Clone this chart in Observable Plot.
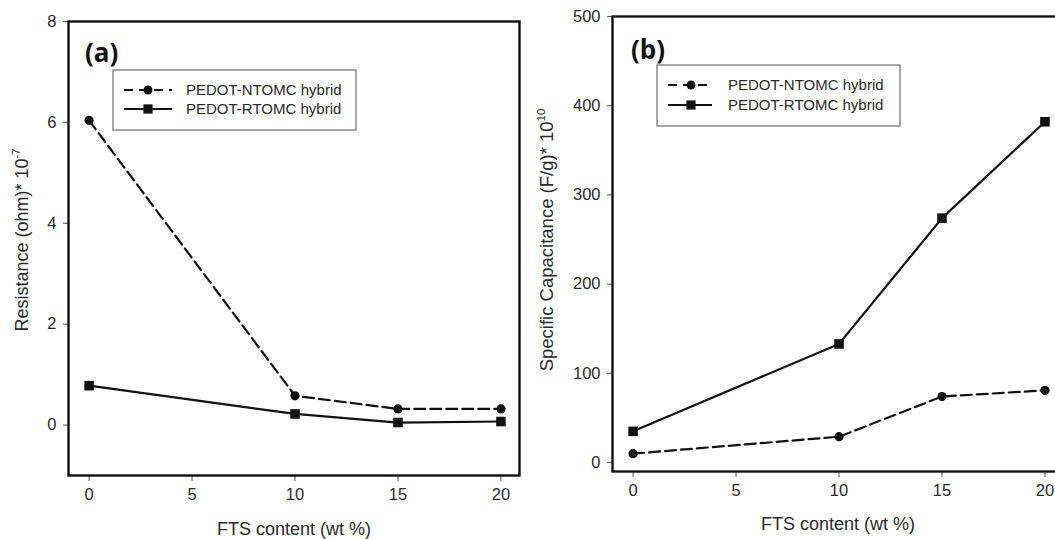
<!DOCTYPE html>
<html><head><meta charset="utf-8">
<script src="https://cdn.jsdelivr.net/npm/d3@7"></script>
<script src="https://cdn.jsdelivr.net/npm/@observablehq/plot@0.6"></script>
<style>
html,body{margin:0;padding:0;background:#fff;overflow:hidden;width:1055px;height:539px;}
#a{position:absolute;left:0;top:0;width:530px;height:539px;}
#b{position:absolute;left:530px;top:0;width:560px;height:539px;}
svg{overflow:visible;max-width:none !important;}
g[aria-label="x-axis tick label"], g[aria-label="y-axis tick label"]{font-size:16.5px;}
</style></head><body>
<div id="a"></div><div id="b"></div>
<script>
const fts = [0, 10, 15, 20];
const resistanceNTOMC = [6.04, 0.58, 0.32, 0.32];
const resistanceRTOMC = [0.78, 0.22, 0.05, 0.07];
const capacitanceNTOMC = [10, 29, 74, 81];
const capacitanceRTOMC = [35, 133, 274, 382];
const seriesNames = ["PEDOT-NTOMC hybrid", "PEDOT-RTOMC hybrid"];
const xTicks = [0, 5, 10, 15, 20];
const yTicksA = [0, 2, 4, 6, 8];
const yTicksB = [0, 100, 200, 300, 400, 500];
const xLabel = "FTS content (wt %)";

const FONT = "'Liberation Sans', Arial, sans-serif";

function rows(vals, name) { return fts.map((x, i) => ({x, y: vals[i], s: name})); }

function panel(cfg) {
  const n = rows(cfg.nt, seriesNames[0]);
  const r = rows(cfg.rt, seriesNames[1]);
  const svg = Plot.plot({
    width: cfg.width, height: 539,
    marginLeft: cfg.ml, marginRight: cfg.mr, marginTop: cfg.mt, marginBottom: cfg.mb,
    style: {fontFamily: FONT, fontSize: "16px", color: "#2a2a2a", background: "transparent", maxWidth: "none"},
    x: {domain: cfg.xd},
    y: {domain: cfg.yd},
    marks: [
      Plot.axisX({ticks: xTicks, tickSize: 6, tickPadding: 7, label: null, stroke: "#555", fontSize: 16.5, fill: "#2a2a2a", tickFormat: d => d}),
      Plot.axisY({ticks: cfg.yTicks, tickSize: 5, tickPadding: 7, label: null, stroke: "#555", fontSize: 16.5, fill: "#2a2a2a", tickFormat: d => d}),
      Plot.lineY(n, {x: "x", y: "y", stroke: "#111", strokeWidth: 2.2, strokeDasharray: "11,5"}),
      Plot.lineY(r, {x: "x", y: "y", stroke: "#111", strokeWidth: 2.2}),
      Plot.dot(n, {x: "x", y: "y", symbol: "circle", r: 4.6, fill: "#111", stroke: "none"}),
      Plot.dot(r, {x: "x", y: "y", symbol: "square", r: 5.4, fill: "#111", stroke: "none"}),
      Plot.frame({stroke: "#111", strokeWidth: 2.4})
    ]
  });
  svg.style.maxWidth = "none";
  const s = d3.select(svg);
  s.selectAll('g[aria-label="x-axis tick label"], g[aria-label="y-axis tick label"]').attr("font-size", 16.5);
  // panel tag
  s.append("text").attr("x", cfg.tag[0]).attr("y", cfg.tag[1]).attr("text-anchor", "start")
    .attr("font-family", "'Open Sans', sans-serif").attr("font-weight", "bold")
    .attr("font-size", 26).attr("fill", "#111").text(cfg.tagText);
  // legend
  const L = cfg.leg;
  const g = s.append("g");
  g.append("rect").attr("x", L.x).attr("y", L.y).attr("width", L.w).attr("height", L.h)
    .attr("fill", "#fff").attr("stroke", "#777").attr("stroke-width", 1.3);
  [0, 1].forEach(i => {
    const yy = L.ly[i];
    g.append("line").attr("x1", L.x1).attr("x2", L.x2).attr("y1", yy).attr("y2", yy)
      .attr("stroke", "#111").attr("stroke-width", 2)
      .attr("stroke-dasharray", i === 0 ? "9,6" : null);
    if (i === 0) g.append("circle").attr("cx", L.mx).attr("cy", yy).attr("r", 4.5).attr("fill", "#111");
    else g.append("rect").attr("x", L.mx - 4.6).attr("y", yy - 4.6).attr("width", 9.2).attr("height", 9.2).attr("fill", "#111");
    g.append("text").attr("x", L.tx).attr("y", yy).attr("dy", "0.36em").attr("text-anchor", "start")
      .attr("font-family", FONT).attr("font-size", 15).attr("fill", "#2a2a2a").text(seriesNames[i]);
  });
  // x label
  s.append("text").attr("x", cfg.xl[0]).attr("y", cfg.xl[1]).attr("text-anchor", "middle")
    .attr("font-family", FONT).attr("font-size", 18).attr("fill", "#2a2a2a").text(xLabel);
  // y label with superscript
  const yt = s.append("text").attr("transform", `translate(${cfg.yl[0]},${cfg.yl[1]}) rotate(-90)`)
    .attr("text-anchor", "middle").attr("font-family", FONT).attr("font-size", cfg.ylSize).attr("fill", "#2a2a2a");
  yt.append("tspan").text(cfg.yLabel);
  yt.append("tspan").attr("dy", -8).attr("font-size", cfg.ylSize * 0.62).text(cfg.yExp);
  return svg;
}

document.getElementById("a").appendChild(panel({
  width: 530, ml: 68, mr: 11, mt: 21, mb: 64,
  xd: [-1, 20.9], yd: [-1, 8], yTicks: yTicksA,
  nt: resistanceNTOMC, rt: resistanceRTOMC,
  tag: [85, 62], tagText: "(a)",
  leg: {x: 113, y: 70, w: 243, h: 60, ly: [90, 109], x1: 124, x2: 172, mx: 148, tx: 186},
  xl: [294, 535], yl: [28, 240], ylSize: 18,
  yLabel: "Resistance (ohm)* 10", yExp: "-7"
}));

document.getElementById("b").appendChild(panel({
  width: 560, ml: 82, mr: 27, mt: 16, mb: 68,
  xd: [-1, 20.9], yd: [-10, 500], yTicks: yTicksB,
  nt: capacitanceNTOMC, rt: capacitanceRTOMC,
  tag: [101, 59], tagText: "(b)",
  leg: {x: 127, y: 65, w: 243, h: 61, ly: [85, 105], x1: 138, x2: 182, mx: 161, tx: 198},
  xl: [308, 530], yl: [23, 240], ylSize: 18.5,
  yLabel: "Specific Capacitance (F/g)* 10", yExp: "10"
}));
</script>
</body></html>
